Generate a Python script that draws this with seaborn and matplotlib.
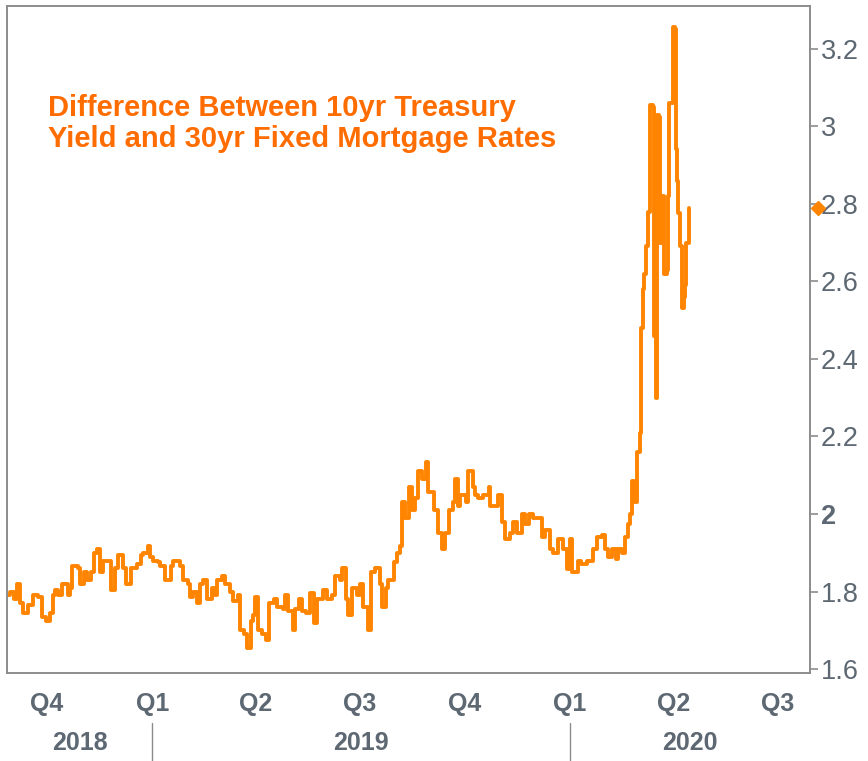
import numpy as np
import pandas as pd
import matplotlib
matplotlib.use('Agg')
import matplotlib.pyplot as plt
import matplotlib.transforms as mtransforms
import seaborn as sns

# spread between 10yr treasury and 30yr fixed mortgage
dates_2018 = ['2018-08-27', '2018-08-30', '2018-09-02', '2018-09-05', '2018-09-07', '2018-09-10',
              '2018-09-14', '2018-09-19', '2018-09-23', '2018-09-27', '2018-09-30', '2018-10-04',
              '2018-10-06', '2018-10-08', '2018-10-11', '2018-10-14', '2018-10-19', '2018-10-21',
              '2018-10-23', '2018-10-28', '2018-10-30', '2018-11-02', '2018-11-05', '2018-11-08',
              '2018-11-11', '2018-11-14', '2018-11-16', '2018-11-19', '2018-11-23', '2018-11-26',
              '2018-11-29', '2018-12-02', '2018-12-06', '2018-12-09', '2018-12-13', '2018-12-19',
              '2018-12-22', '2018-12-24', '2018-12-28', '2018-12-30']
vals_2018 = [1.79, 1.80, 1.78, 1.82, 1.77, 1.745,
             1.765, 1.79, 1.785, 1.735, 1.725, 1.745,
             1.79, 1.805, 1.79, 1.82, 1.79, 1.81,
             1.865, 1.86, 1.82, 1.85, 1.83, 1.85,
             1.90, 1.91, 1.85, 1.88, 1.88, 1.805,
             1.86, 1.895, 1.86, 1.82, 1.86, 1.87,
             1.895, 1.90, 1.917, 1.89]

dates_2019 = ['2019-01-02', '2019-01-06', '2019-01-08', '2019-01-12', '2019-01-17', '2019-01-19',
              '2019-01-25', '2019-01-28', '2019-02-01', '2019-02-03', '2019-02-06', '2019-02-09',
              '2019-02-12', '2019-02-14', '2019-02-18', '2019-02-22', '2019-02-25', '2019-02-27',
              '2019-03-03', '2019-03-06', '2019-03-10', '2019-03-13', '2019-03-17', '2019-03-19',
              '2019-03-22', '2019-03-25', '2019-03-28', '2019-03-30', '2019-04-01', '2019-04-03',
              '2019-04-07', '2019-04-10', '2019-04-13', '2019-04-17', '2019-04-20', '2019-04-25',
              '2019-04-27', '2019-04-30', '2019-05-04', '2019-05-06', '2019-05-09', '2019-05-12',
              '2019-05-15', '2019-05-19', '2019-05-22', '2019-05-25', '2019-05-30', '2019-06-03',
              '2019-06-07', '2019-06-10', '2019-06-14', '2019-06-16', '2019-06-19', '2019-06-21',
              '2019-06-25', '2019-06-29', '2019-07-02', '2019-07-04', '2019-07-09', '2019-07-11',
              '2019-07-15', '2019-07-19', '2019-07-21', '2019-07-24', '2019-07-26', '2019-07-31',
              '2019-08-03', '2019-08-06', '2019-08-07', '2019-08-10', '2019-08-13', '2019-08-16',
              '2019-08-19', '2019-08-21', '2019-08-25', '2019-08-28', '2019-08-30', '2019-09-04',
              '2019-09-08', '2019-09-11', '2019-09-14', '2019-09-17', '2019-09-21', '2019-09-23',
              '2019-09-25', '2019-09-27', '2019-10-02', '2019-10-04', '2019-10-08', '2019-10-10',
              '2019-10-13', '2019-10-17', '2019-10-22', '2019-10-23', '2019-10-28', '2019-10-30',
              '2019-11-03', '2019-11-05', '2019-11-10', '2019-11-12', '2019-11-16', '2019-11-20',
              '2019-11-23', '2019-11-26', '2019-11-30', '2019-12-04', '2019-12-08', '2019-12-10',
              '2019-12-15', '2019-12-17', '2019-12-22', '2019-12-26', '2019-12-30']
vals_2019 = [1.88, 1.875, 1.865, 1.83, 1.865, 1.88,
             1.865, 1.83, 1.82, 1.787, 1.80, 1.77,
             1.82, 1.83, 1.78, 1.81, 1.79, 1.83,
             1.84, 1.82, 1.80, 1.775, 1.79, 1.70,
             1.69, 1.655, 1.725, 1.74, 1.787, 1.70,
             1.69, 1.675, 1.77, 1.78, 1.76, 1.755,
             1.79, 1.75, 1.70, 1.755, 1.78, 1.75,
             1.745, 1.797, 1.72, 1.78, 1.805, 1.78,
             1.79, 1.84, 1.83, 1.862, 1.78, 1.74,
             1.81, 1.79, 1.82, 1.76, 1.70, 1.85,
             1.86, 1.82, 1.76, 1.81, 1.83, 1.875,
             1.90, 1.917, 2.03, 1.99, 2.07, 2.01,
             2.04, 2.11, 2.09, 2.135, 2.057, 2.01,
             1.95, 1.91, 1.95, 2.01, 2.03, 2.09,
             2.02, 2.05, 2.03, 2.11, 2.07, 2.05,
             2.04, 2.05, 2.07, 2.02, 2.02, 2.05,
             1.98, 1.935, 1.95, 1.98, 1.95, 2.00,
             1.975, 2.00, 1.99, 1.99, 1.94, 1.96,
             1.91, 1.90, 1.935, 1.91, 1.857]

dates_2020 = ['2020-01-01', '2020-01-03', '2020-01-08', '2020-01-11', '2020-01-16', '2020-01-21',
              '2020-01-25', '2020-01-29', '2020-02-01', '2020-02-03', '2020-02-07', '2020-02-10',
              '2020-02-12', '2020-02-16', '2020-02-18', '2020-02-21', '2020-02-23', '2020-02-24',
              '2020-02-26', '2020-02-29', '2020-03-02', '2020-03-03', '2020-03-05', '2020-03-06',
              '2020-03-08', '2020-03-09', '2020-03-11', '2020-03-14', '2020-03-15', '2020-03-16',
              '2020-03-17', '2020-03-19', '2020-03-20', '2020-03-22', '2020-03-23', '2020-03-26',
              '2020-03-27', '2020-03-28', '2020-03-31', '2020-04-02', '2020-04-03', '2020-04-04',
              '2020-04-05', '2020-04-06', '2020-04-08', '2020-04-10', '2020-04-11', '2020-04-12',
              '2020-04-14']
vals_2020 = [1.935, 1.85, 1.88, 1.87, 1.88, 1.91,
             1.94, 1.945, 1.91, 1.89, 1.91, 1.885,
             1.91, 1.90, 1.94, 1.975, 2.00, 2.085,
             2.03, 2.16, 2.21, 2.48, 2.58, 2.62,
             2.69, 2.78, 3.055, 3.05, 2.46, 2.30,
             3.03, 3.025, 2.70, 2.82, 2.62, 2.63,
             2.82, 3.06, 3.255, 3.25, 2.94, 2.86,
             2.775, 2.69, 2.53, 2.56, 2.59, 2.70,
             2.79]

quarter_starts = ['2018-10-01', '2019-01-01', '2019-04-01', '2019-07-01',
                  '2019-10-01', '2020-01-01', '2020-04-01', '2020-07-01']
quarter_labels = ['Q4', 'Q1', 'Q2', 'Q3', 'Q4', 'Q1', 'Q2', 'Q3']
years = ['2018', '2019', '2020']
year_starts = ['2019-01-01', '2020-01-01']
y_ticks = [1.6, 1.8, 2.0, 2.2, 2.4, 2.6, 2.8, 3.0, 3.2]
y_labels = ['1.6', '1.8', '2', '2.2', '2.4', '2.6', '2.8', '3', '3.2']
title = 'Difference Between 10yr Treasury\nYield and 30yr Fixed Mortgage Rates'

LINE = '#ff8400'
TITLE = '#ff6c00'
GREY = '#5d6873'
SPINE = '#8c8c8c'

df = pd.DataFrame({
    'date': pd.to_datetime(dates_2018 + dates_2019 + dates_2020),
    'spread': vals_2018 + vals_2019 + vals_2020,
})

sns.set_style('white')
plt.rcParams['font.family'] = ['Liberation Sans', 'DejaVu Sans']

fig = plt.figure(figsize=(8.68, 7.61), dpi=100)
ax = fig.add_axes([7 / 868, 88 / 761, 803 / 868, 667 / 761])

sns.lineplot(data=df, x='date', y='spread', ax=ax, color=LINE, lw=2.8,
             drawstyle='steps-post')

x0, x1 = pd.Timestamp('2018-08-27'), pd.Timestamp('2020-07-29')
ax.set_xlim(x0, x1)
ax.set_ylim(1.59, 3.31)
ax.set_xlabel('')
ax.set_ylabel('')

# y axis on the right
ax.yaxis.tick_right()
ax.set_yticks(y_ticks, labels=y_labels)
ax.tick_params(axis='y', direction='out', length=6, width=1.2, color=SPINE,
               labelsize=19.5, labelcolor=GREY, pad=2)
for lbl in ax.get_yticklabels():
    if lbl.get_text() == '2':
        lbl.set_fontweight('bold')

ax.set_xticks(pd.to_datetime(quarter_starts), labels=quarter_labels)
ax.tick_params(axis='x', direction='out', length=7, width=1.2, color=SPINE,
               labelsize=18, labelcolor=GREY, pad=7)
for lbl in ax.get_xticklabels():
    lbl.set_fontweight('bold')

for s in ax.spines.values():
    s.set_visible(True)
    s.set_color(SPINE)
    s.set_linewidth(1.4)

# year row under the quarters
trans = mtransforms.blended_transform_factory(ax.transData, ax.transAxes)
bounds = [x0] + list(pd.to_datetime(year_starts)) + [x1]
for yr, a, b in zip(years, bounds[:-1], bounds[1:]):
    ax.text(a + (b - a) / 2, -0.105, yr, transform=trans, ha='center', va='center',
            fontsize=18, fontweight='bold', color=GREY)
for ys in pd.to_datetime(year_starts):
    ax.plot([ys, ys], [-0.075, -0.135], transform=trans, color=SPINE, lw=1,
            clip_on=False)

# last value marker on the axis
mtrans = mtransforms.blended_transform_factory(ax.transAxes, ax.transData)
ax.plot([1.01], [df['spread'].iloc[-1]], marker='D', ms=7, color=LINE,
        transform=mtrans, clip_on=False)

fig.text(48 / 868, 1 - 94 / 761, title, ha='left', va='top', fontsize=21,
         fontweight='bold', color=TITLE, linespacing=1.15)

plt.savefig('out.png', dpi=100)
